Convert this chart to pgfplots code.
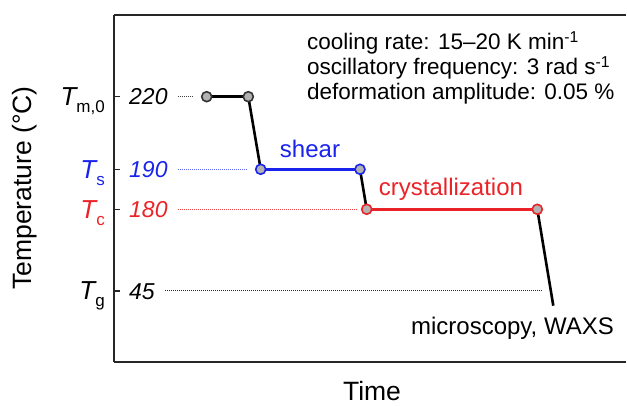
\documentclass[border=0pt]{standalone}
\usepackage{pgfplots}
\pgfplotsset{compat=1.18}
\usepackage{fontspec}
\setmainfont{Liberation Sans}
\definecolor{mblue}{RGB}{25,35,235}
\definecolor{mred}{RGB}{235,35,40}
\definecolor{mgray}{RGB}{178,178,178}
\newcommand{\Tlab}[1]{{\fontsize{26}{30}\selectfont\itshape T}\raisebox{-7pt}{\fontsize{17}{20}\selectfont #1}}
\begin{document}
\begin{tikzpicture}
\begin{axis}[
  scale only axis, width=512pt, height=347pt,
  xmin=0, xmax=512, ymin=0, ymax=347,
  axis x line=box, axis y line=left,
  axis line style={-, line width=2.2pt, draw=black!85},
  xtick=\empty,
  ytick={71,152.7,192.7,265.3},
  yticklabels={\Tlab{g}, \textcolor{mred}{\Tlab{c}}, \textcolor{mblue}{\Tlab{s}}, \Tlab{m,0}},
  ytick pos=left, tick align=inside, major tick length=6pt,
  tick style={line width=1.4pt, black!85},
  yticklabel style={anchor=base east, inner sep=0pt, xshift=-9pt, yshift=-9pt},
  clip=false,
  xlabel={\fontsize{26.5}{30}\selectfont Time},
  xlabel style={at={(axis cs:258,-39)}, anchor=base, inner sep=0pt},
  ylabel={\fontsize{26.5}{30}\selectfont Temperature (°C)},
  ylabel style={at={(axis cs:-89,174)}, anchor=center, rotate=0, inner sep=0pt},
]
% reference dotted lines
\addplot[black!75, densely dotted, line width=1pt] coordinates {(64,265.3) (79,265.3)};
\addplot[mblue!70, densely dotted, line width=1pt] coordinates {(64,192.7) (133,192.7)};
\addplot[mred!85, densely dotted, line width=1pt] coordinates {(64,152.7) (243,152.7)};
\addplot[black!85, densely dotted, line width=1pt] coordinates {(51,71) (429,71)};
% black connectors
\addplot[black, line width=2.6pt] coordinates {(134.3,265.3) (146.7,192.7)};
\addplot[black, line width=2.6pt] coordinates {(246,192.7) (252.7,152.7)};
\addplot[black, line width=2.6pt] coordinates {(423.3,152.7) (439.3,56.3)};
% segments
\addplot[black, line width=2.6pt, mark=*, mark size=5pt, mark options={fill=mgray, draw=black!80, line width=1.6pt}] coordinates {(92.7,265.3) (134.3,265.3)};
\addplot[mblue, line width=2.6pt, mark=*, mark size=5pt, mark options={fill=mgray, draw=mblue, line width=1.6pt}] coordinates {(146.7,192.7) (246,192.7)};
\addplot[mred, line width=2.6pt, mark=*, mark size=5pt, mark options={fill=mgray, draw=mred, line width=1.6pt}] coordinates {(252.7,152.7) (423.3,152.7)};
% temperature values
\node[anchor=base west, inner sep=0pt, font=\fontsize{23}{27}\selectfont\itshape] at (axis cs:15,257.1) {220};
\node[anchor=base west, inner sep=0pt, font=\fontsize{23}{27}\selectfont\itshape, text=mblue] at (axis cs:15,184.5) {190};
\node[anchor=base west, inner sep=0pt, font=\fontsize{23}{27}\selectfont\itshape, text=mred] at (axis cs:15,144.5) {180};
\node[anchor=base west, inner sep=0pt, font=\fontsize{23}{27}\selectfont\itshape] at (axis cs:15,62.8) {45};
% labels
\node[anchor=base, inner sep=0pt, font=\fontsize{24}{28}\selectfont, text=mblue] at (axis cs:196,204) {shear};
\node[anchor=base, inner sep=0pt, font=\fontsize{24}{28}\selectfont, text=mred] at (axis cs:337,166) {crystallization};
\node[anchor=base, inner sep=0pt, font=\fontsize{24}{28}\selectfont] at (axis cs:398.5,27) {microscopy, WAXS};
% annotation
\node[anchor=base west, inner sep=0pt, font=\fontsize{22.5}{26}\selectfont] at (axis cs:193,312) {cooling rate: 15\textendash20 K min\textsuperscript{-1}};
\node[anchor=base west, inner sep=0pt, font=\fontsize{22.5}{26}\selectfont] at (axis cs:193,287) {oscillatory frequency: 3 rad s\textsuperscript{-1}};
\node[anchor=base west, inner sep=0pt, font=\fontsize{22.5}{26}\selectfont] at (axis cs:193,262) {deformation amplitude: 0.05 \%};
\end{axis}
\pgfresetboundingbox
\useasboundingbox (-114pt,-44pt) rectangle (513pt,362pt);
\end{tikzpicture}
\end{document}
